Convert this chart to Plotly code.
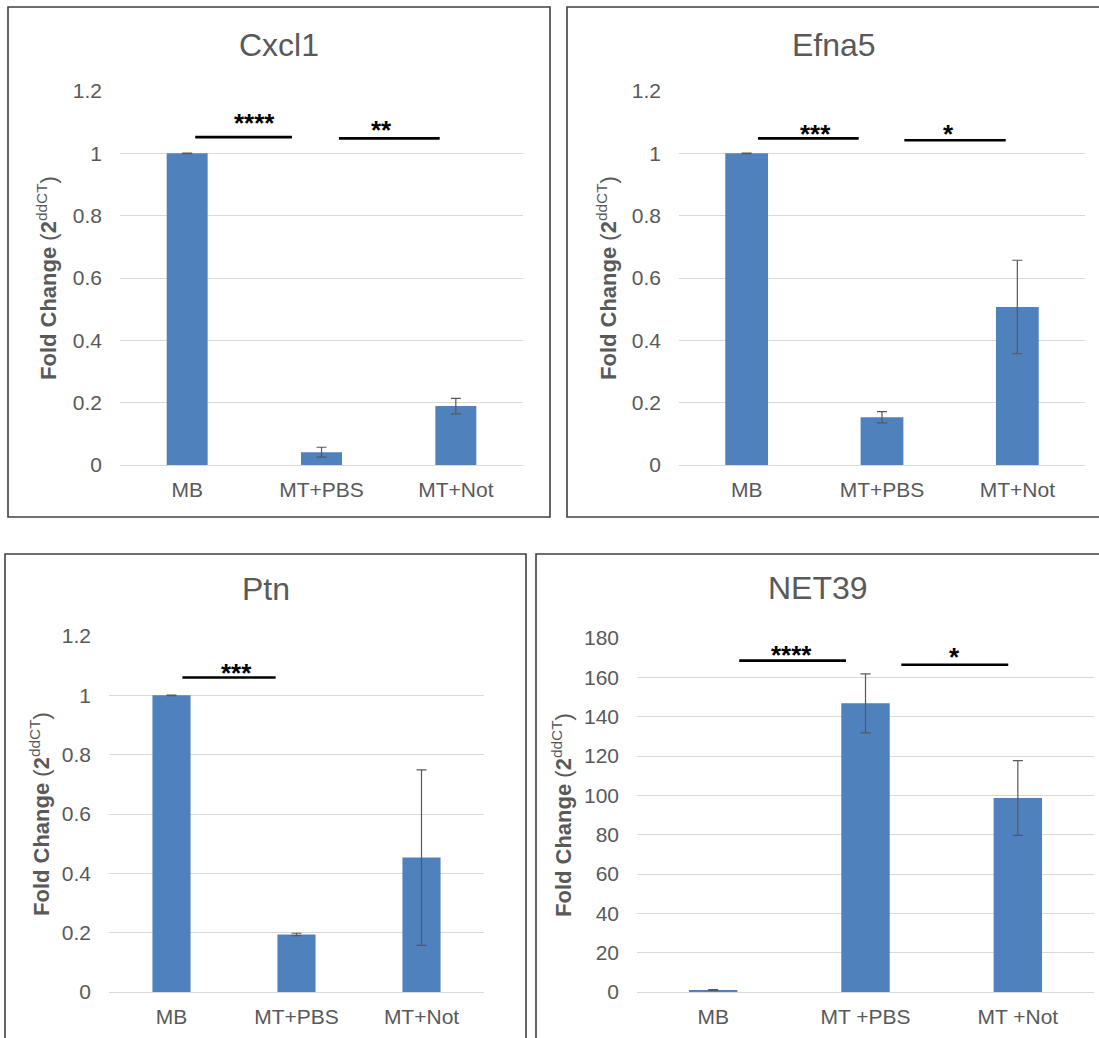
import plotly.graph_objects as go

# ---- data -------------------------------------------------------------
groups = ["MB", "MT+PBS", "MT+Not"]
groups_net39 = ["MB", "MT +PBS", "MT +Not"]

cxcl1_mean = [1.0, 0.041, 0.189]
cxcl1_err = [0.001, 0.016, 0.025]

efna5_mean = [1.0, 0.153, 0.507]
efna5_err = [0.001, 0.018, 0.150]

ptn_mean = [1.0, 0.194, 0.453]
ptn_err = [0.001, 0.004, 0.296]

net39_mean = [1.0, 146.8, 98.6]
net39_err = [0.2, 15.0, 19.0]

# significance brackets: (start, end, height, label, label x, label y)
cxcl1_sig = [(0.06, 0.78, 1.052, "****", 0.50, 1.118),
             (1.13, 1.88, 1.048, "**", 1.45, 1.094)]
efna5_sig = [(0.084, 0.828, 1.048, "***", 0.51, 1.080),
             (1.165, 1.914, 1.042, "*", 1.49, 1.080)]
ptn_sig = [(0.087, 0.833, 1.060, "***", 0.52, 1.097)]
net39_sig = [(0.171, 0.872, 168.5, "****", 0.514, 174.2),
             (1.235, 1.937, 166.4, "*", 1.584, 173.6)]

# ---- layout helpers ---------------------------------------------------
W, H = 1099, 1038
FONT = "Liberation Sans, Arial, sans-serif"
GREY = "#595959"
BLUE = "#4F81BD"


def fx(x):
    return x / W


def fy(y):
    return 1 - y / H


panels = [
    dict(title="Cxcl1", cats=groups, mean=cxcl1_mean, err=cxcl1_err, sig=cxcl1_sig,
         frame=(8, 7, 550, 517), plot=(120, 91, 523, 465), yrange=[0, 1.2], dtick=0.2,
         ytitle_x=47, title_y=45, barw=0.305),
    dict(title="Efna5", cats=groups, mean=efna5_mean, err=efna5_err, sig=efna5_sig,
         frame=(567, 7, 1104, 517), plot=(679, 91, 1085, 465), yrange=[0, 1.2], dtick=0.2,
         ytitle_x=607, title_y=45, barw=0.316),
    dict(title="Ptn", cats=groups, mean=ptn_mean, err=ptn_err, sig=ptn_sig,
         frame=(5, 554, 526, 1045), plot=(109, 636, 484, 992), yrange=[0, 1.2], dtick=0.2,
         ytitle_x=40, title_y=589, barw=0.305),
    dict(title="NET39", cats=groups_net39, mean=net39_mean, err=net39_err, sig=net39_sig,
         frame=(536, 554, 1104, 1045), plot=(637, 638, 1094, 992), yrange=[0, 180], dtick=20,
         ytitle_x=562, title_y=588, barw=0.318),
]

fig = go.Figure()
shapes = []
annotations = []
layout_axes = {}

for i, p in enumerate(panels, start=1):
    xa = "x" if i == 1 else f"x{i}"
    ya = "y" if i == 1 else f"y{i}"
    x0, y0, x1, y1 = p["plot"]

    fig.add_trace(go.Bar(
        x=p["cats"], y=p["mean"], width=p["barw"],
        marker=dict(color=BLUE, line=dict(width=0)),
        error_y=dict(type="data", array=p["err"], visible=True,
                     color=GREY, thickness=1.2, width=5),
        xaxis=xa, yaxis=ya, showlegend=False, hoverinfo="skip",
    ))

    layout_axes["xaxis" if i == 1 else f"xaxis{i}"] = dict(
        domain=[fx(x0), fx(x1)], anchor=ya, type="category",
        range=[-0.5, 2.5], showgrid=False, zeroline=False, showline=False,
        ticks="", ticklabelstandoff=10, automargin=False,
        tickfont=dict(family=FONT, size=21, color=GREY), fixedrange=True,
    )
    layout_axes["yaxis" if i == 1 else f"yaxis{i}"] = dict(
        domain=[fy(y1), fy(y0)], anchor=xa, range=p["yrange"], dtick=p["dtick"],
        tick0=0, showgrid=True, gridcolor="#D9D9D9", gridwidth=1,
        zeroline=True, zerolinecolor="#D9D9D9", zerolinewidth=1,
        showline=False, ticks="", ticklabelstandoff=17, automargin=False,
        tickfont=dict(family=FONT, size=21, color=GREY), fixedrange=True,
    )

    # panel frame
    fx0, fy0, fx1, fy1 = p["frame"]
    shapes.append(dict(type="rect", xref="paper", yref="paper",
                       x0=fx(fx0), x1=fx(fx1), y0=fy(fy1), y1=fy(fy0),
                       line=dict(color="#404040", width=1.6), layer="above"))

    # chart title, centred on the frame
    annotations.append(dict(text=p["title"], xref="paper", yref="paper",
                            x=fx((fx0 + min(fx1, 1100)) / 2), y=fy(p["title_y"]),
                            xanchor="center", yanchor="middle", showarrow=False,
                            font=dict(family=FONT, size=32, color=GREY)))

    # y-axis title
    annotations.append(dict(text="<b>Fold Change </b>(<b>2</b><sup>ddCT</sup>)",
                            xref="paper", yref="paper",
                            x=fx(p["ytitle_x"]), y=fy((y0 + y1) / 2),
                            xanchor="center", yanchor="middle", textangle=-90,
                            showarrow=False,
                            font=dict(family=FONT, size=22, color=GREY)))

    # significance brackets
    for (s, e, h, lab, lx, ly) in p["sig"]:
        shapes.append(dict(type="line", xref=xa, yref=ya, x0=s, x1=e, y0=h, y1=h,
                           line=dict(color="black", width=2.6)))
        annotations.append(dict(text=f"<b>{lab}</b>", xref=xa, yref=ya, x=lx, y=ly,
                                xanchor="center", yanchor="middle", yshift=-6,
                                showarrow=False,
                                font=dict(family=FONT, size=26, color="black")))

fig.update_layout(
    width=W, height=H,
    margin=dict(l=0, r=0, t=0, b=0, autoexpand=False),
    paper_bgcolor="white", plot_bgcolor="white",
    shapes=shapes, annotations=annotations,
    **layout_axes,
)

fig.write_html("out.html")
